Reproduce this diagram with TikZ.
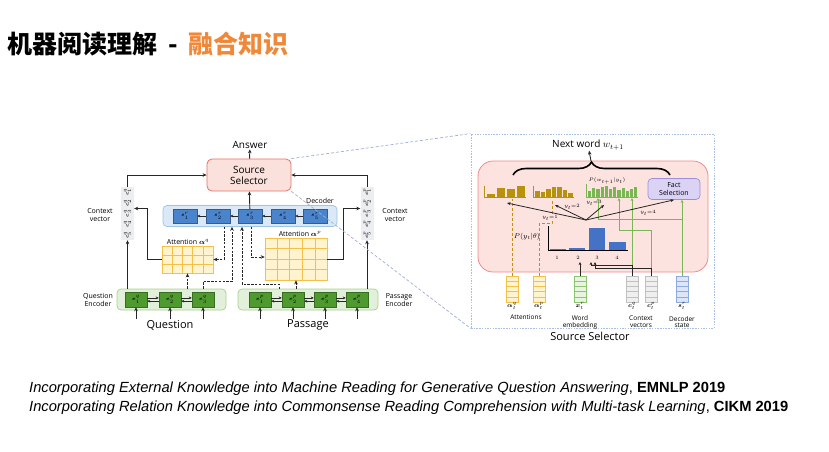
\documentclass[tikz,border=0pt]{standalone}
\usepackage{fontspec}
\usepackage{amsmath}
\usepackage{tikz}
\usetikzlibrary{arrows.meta, positioning, calc, decorations.pathreplacing}
\newfontfamily\cjk{Noto Sans CJK SC}
\newfontfamily\diagf{Open Sans}
\newfontfamily\bibf{Liberation Sans}
\definecolor{titleor}{HTML}{F0883A}
\definecolor{selred}{HTML}{E8706A}
\definecolor{selfill}{HTML}{FBE1DC}
\definecolor{decline}{HTML}{9DC3E6}
\definecolor{decfill}{HTML}{DAE8F7}
\definecolor{decdark}{HTML}{4A84CC}
\definecolor{encline}{HTML}{A9D18E}
\definecolor{encfill}{HTML}{E2EFDA}
\definecolor{encdark}{HTML}{4E9A2F}
\definecolor{attline}{HTML}{F5C04A}
\definecolor{attfill}{HTML}{FFF3D0}
\definecolor{ctxfill}{HTML}{ECEEF2}
\definecolor{linkblue}{HTML}{9FAED6}
\definecolor{frameblue}{HTML}{A9BEE3}
\definecolor{ssline}{HTML}{EE8A8A}
\definecolor{ssfill}{HTML}{FCE3DF}
\definecolor{goldbar}{HTML}{B8920C}
\definecolor{greenbar}{HTML}{7BB655}
\definecolor{pbar}{HTML}{4472C4}
\definecolor{factfill}{HTML}{DAD3F6}
\definecolor{factline}{HTML}{9C8FD8}
\definecolor{vgreen}{HTML}{8CC472}
\definecolor{vgreenf}{HTML}{E8F3E0}
\definecolor{vgray}{HTML}{C0C0C0}
\definecolor{vgrayf}{HTML}{EFEFEF}
\definecolor{vblue}{HTML}{8FAADC}
\definecolor{vbluef}{HTML}{DDE6F6}
\tikzset{
  selbox/.style={rectangle, rounded corners=5pt, draw=selred, line width=0.8pt, fill=selfill, align=center, font=\diagf\fontsize{10}{11}\selectfont, minimum width=84pt, minimum height=32pt, inner sep=0pt},
  decbox/.style={rectangle, rounded corners=4pt, draw=decline, fill=decfill, line width=0.7pt},
  dcell/.style={rectangle, draw=decdark!70!black, fill=decdark, minimum width=24pt, minimum height=14pt, inner sep=0pt, font=\fontsize{5.5}{6}\selectfont},
  encbox/.style={rectangle, rounded corners=4pt, draw=encline, fill=encfill, line width=0.7pt},
  ecell/.style={rectangle, draw=encdark!70!black, fill=encdark, minimum width=22pt, minimum height=15pt, inner sep=0pt, font=\fontsize{5.5}{6}\selectfont},
  attgrid/.style={rectangle, draw=attline, fill=attfill, line width=0.7pt, inner sep=0pt},
  ctxcol/.style={rectangle, fill=ctxfill, minimum width=13pt, minimum height=53pt, inner sep=0pt},
  clbl/.style={rotate=90, font=\fontsize{4.5}{5}\selectfont, inner sep=0pt},
  lbl/.style={font=\diagf\fontsize{7}{7.5}\selectfont, align=center, inner sep=0.5pt},
  tlbl/.style={font=\fontsize{5}{5.5}\selectfont, inner sep=0.5pt},
  vlbl/.style={font=\diagf\fontsize{6.5}{6.8}\selectfont, align=center, inner sep=0pt},
  vec/.style={rectangle, minimum width=12pt, minimum height=26pt, inner sep=0pt, line width=0.6pt},
  frame/.style={rectangle, draw=frameblue, dash pattern=on 1.5pt off 1.2pt, line width=0.8pt},
  ssbox/.style={rectangle, rounded corners=15pt, draw=ssline, fill=ssfill, line width=0.8pt},
  factbox/.style={rectangle, rounded corners=4pt, draw=factline, fill=factfill, line width=0.7pt, align=center, font=\diagf\fontsize{7}{7.5}\selectfont, minimum width=52pt, minimum height=21pt, inner sep=0pt},
  bib/.style={anchor=west, inner sep=0pt, font=\bibf\fontsize{14.7}{17}\selectfont},
  arr/.style={-{Stealth[length=4pt,width=3.6pt]}, line width=0.9pt, black!85},
  sarr/.style={-{Stealth[length=3pt,width=2.8pt]}, line width=0.6pt, black!85},
  darr/.style={arr, dash pattern=on 2.4pt off 1.4pt},
  rarr/.style={-{Stealth[length=3.5pt,width=3pt]}, line width=0.8pt, black!85},
  garr/.style={-{Stealth[length=3pt,width=2.8pt]}, line width=0.9pt, greenbar},
  gdash/.style={line width=1pt, goldbar!80!orange, dash pattern=on 3pt off 2pt},
  link/.style={draw=linkblue, dash pattern=on 3pt off 2pt, line width=0.7pt},
}

\begin{document}
\begin{tikzpicture}[x=1pt, y=-1pt]
\useasboundingbox (0,0) rectangle (829,451);

% title
\node[anchor=west, inner sep=0pt, font=\cjk\bfseries\fontsize{25}{29}\selectfont] (title) at (7,44) {机器阅读理解\hspace{11pt}-\hspace{11pt}\textcolor{titleor}{融合知识}};

% generative QA model
\node[selbox] (sel) at (249,175) {Source\\Selector};
\node[lbl, font=\diagf\fontsize{10}{10}\selectfont] (ans) at (250,145) {Answer};
\draw[arr] (sel) -- (ans);

\node[decbox, minimum width=174pt, minimum height=21pt] (dec) at (250,216) {};
\foreach \i/\x in {1/185,2/218,3/250,4/283,5/315}
  \node[dcell] (s\i) at (\x,216) {$\boldsymbol{s}^r_{\i}$};
\foreach \i/\j in {2/1,3/2,4/3,5/4}
  \draw[sarr] (s\i) -- (s\j);
\node[lbl] (declbl) at (320,201) {Decoder};
\draw[arr] (s3) -- (sel);

\node[encbox, minimum width=109pt, minimum height=21pt] (qenc) at (171.5,299.5) {};
\foreach \i/\x in {1/136,2/170,3/203}
  \node[ecell] (eq\i) at (\x,299.5) {$\boldsymbol{e}^q_{\i}$};
\node[encbox, minimum width=140pt, minimum height=21pt] (penc) at (308,299.5) {};
\foreach \i/\x in {1/260,2/293,3/325,4/357}
  \node[ecell] (ep\i) at (\x,299.5) {$\boldsymbol{e}^p_{\i}$};
\foreach \a/\b in {eq1/eq2,eq2/eq3,ep1/ep2,ep2/ep3,ep3/ep4} {
  \draw[sarr] ([yshift=1.6pt]\a.east) -- ([yshift=1.6pt]\b.west);
  \draw[sarr] ([yshift=-1.6pt]\b.west) -- ([yshift=-1.6pt]\a.east);
}
\node[lbl] (qenclbl) at (98,300) {Question\\Encoder};
\node[lbl] (penclbl) at (399,300) {Passage\\Encoder};
\node[lbl, font=\diagf\fontsize{11}{11}\selectfont] (qin) at (170,325) {Question};
\node[lbl, font=\diagf\fontsize{11}{11}\selectfont] (pin) at (308,325) {Passage};
\foreach \c in {eq1,eq2,eq3}
  \draw[arr] (\c.south |- qin.north) -- (\c.south);
\foreach \c in {ep1,ep2,ep3,ep4}
  \draw[arr] (\c.south |- pin.north) -- (\c.south);

% context vectors
\node[ctxcol] (cvq) at (127.5,213.5) {};
\node[ctxcol] (cvp) at (367,213.5) {};
\foreach \k/\y in {1/192,2/203,3/213.5,4/224,5/235} {
  \node[clbl] (cvq\k) at (127.5,\y) {$\boldsymbol{c}^q_{\k}$};
  \node[clbl] (cvp\k) at (367,\y) {$\boldsymbol{c}^p_{\k}$};
}
\node[lbl] (cvqlbl) at (100,215) {Context\\vector};
\node[lbl] (cvplbl) at (395,215) {Context\\vector};
\draw[arr] (cvq.south |- qenc.north) -- (cvq.south);
\draw[arr] (cvp.south |- penc.north) -- (cvp.south);
\draw[arr] (cvq.north) |- (sel.west);
\draw[arr] (cvp.north) |- (sel.east);

% attentions
\node[attgrid, minimum width=51pt, minimum height=27pt] (attq) at (187.5,259.5) {};
\node[attgrid, minimum width=62pt, minimum height=42pt] (attp) at (296,259) {};
\foreach \k in {1,...,4} {
  \draw[attline, line width=0.6pt] ($(attq.north west)!\k/5!(attq.north east)$) -- ($(attq.south west)!\k/5!(attq.south east)$);
  \draw[attline, line width=0.6pt] ($(attp.north west)!\k/5!(attp.north east)$) -- ($(attp.south west)!\k/5!(attp.south east)$);
}
\foreach \k in {1,2}
  \draw[attline, line width=0.6pt] ($(attq.north west)!\k/3!(attq.south west)$) -- ($(attq.north east)!\k/3!(attq.south east)$);
\foreach \k in {1,2,3}
  \draw[attline, line width=0.6pt] ($(attp.north west)!\k/4!(attp.south west)$) -- ($(attp.north east)!\k/4!(attp.south east)$);
\node[lbl] (attqlbl) at (188,242) {Attention $\boldsymbol{\alpha}^q$};
\node[lbl] (attplbl) at (300,234) {Attention $\boldsymbol{\alpha}^p$};
\draw[arr] (attq.west) -- ++(-14,0) |- ([yshift=5pt]cvq.east);
\draw[arr] (attp.east) -- ++(16,0) |- ([yshift=5pt]cvp.west);

\coordinate (pj) at (279,289);
\draw[darr] ([xshift=-26pt]dec.south) |- (attq.east);
\draw[darr] (eq3.north |- qenc.north) -- ++(0,-7) -| ([xshift=-18pt]dec.south);
\draw[darr] (attq.south |- qenc.north) -- (attq.south);
\draw[darr] (pj) -- ++(0,-5) -| ([xshift=-8pt]dec.south);
\draw[darr] ([xshift=1pt]dec.south) |- ([yshift=2pt]attp.west);
\draw[darr] (attp.south |- penc.north) -- (attp.south);

% source selector in detail
\node[frame, minimum width=243pt, minimum height=194pt] (panel) at (592.5,231) {};
\draw[link] (sel.north east) -- (panel.north west);
\draw[link] (sel.south east) -- (panel.south west);
\node[ssbox, minimum width=230pt, minimum height=111pt] (ssm) at (593,216.5) {};
\node[lbl, font=\diagf\fontsize{10}{10}\selectfont] (next) at (588,145) {Next word $w_{t+1}$};
\draw[decorate, decoration={brace, amplitude=13pt}, line width=1.6pt] (513,175) -- (670,175);
\coordinate (btip) at (591,161);
\draw[arr] (btip) -- (next);

\draw[goldbar, line width=0.8pt] (484,186) -- (484,197) -- (526,197);
\foreach \x/\h in {487/3,497/9,507/8,517/11}
  \fill[goldbar] (\x,197) rectangle ++(8,-\h);
\draw[goldbar, line width=0.8pt] (533,186) -- (533,197) -- (574,197);
\foreach \x/\h in {535/6,540.5/5,546/8,551.5/10,557/10,562.5/7,568/4}
  \fill[goldbar] (\x,197) rectangle ++(4.5,-\h);
\draw[greenbar, line width=0.8pt] (586,184) -- (586,197) -- (638,197);
\foreach \k/\h in {0/6,1/9,2/8,3/10,4/11,5/8,6/10,7/7,8/9,9/6,10/8,11/10}
  \fill[greenbar] ({588+4.2*\k},197) rectangle ++(3.2,-\h);
\node[tlbl] (pw) at (607,181) {$P(w_{t+1}|y_t)$};
\node[factbox] (fact) at (674,189) {Fact\\Selection};

% input vectors
\foreach \n/\x/\c/\f in {aq/512/attline/attfill, ap/539/attline/attfill, xr/580/vgreen/vgreenf, cq/632/vgray/vgrayf, cp/651/vgray/vgrayf, sr/682/vblue/vbluef} {
  \node[vec, draw=\c, fill=\f] (\n) at (\x,289) {};
  \foreach \k in {1,...,4}
    \draw[\c, line width=0.5pt] ($(\n.north west)!\k/5!(\n.south west)$) -- ($(\n.north east)!\k/5!(\n.south east)$);
}
\node[vlbl] (aqlbl) at (512,306) {$\boldsymbol{\alpha}^q_t$};
\node[vlbl] (aplbl) at (539,306) {$\boldsymbol{\alpha}^p_t$};
\node[vlbl] (attslbl) at (526,317) {Attentions};
\node[vlbl] (xrlbl) at (580,306) {$\boldsymbol{x}{}^{r}_{t}$};
\node[vlbl] (welbl) at (580,322) {Word\\embedding};
\node[vlbl] (cqlbl) at (632,306) {$\boldsymbol{c}^q_t$};
\node[vlbl] (cplbl) at (651,306) {$\boldsymbol{c}^p_t$};
\node[vlbl] (cvlbl) at (641,322) {Context\\vectors};
\node[vlbl] (srlbl) at (682,306) {$\boldsymbol{s}{}^{r}_{t}$};
\node[vlbl] (dslbl) at (682,322) {Decoder\\state};
\node[lbl, font=\diagf\fontsize{11}{11}\selectfont] (sslbl) at (590,336) {Source Selector};

% gold and green feeds, under the rays
\coordinate (g1) at (512,199);
\coordinate (g2) at (552,199);
\draw[gdash] (aq.north) -- (g1);
\draw[gdash] (ap.north) -- ++(0,-52) -| (g2);

\coordinate (k1) at (598,198);
\coordinate (k2) at (619,198);
\coordinate (k3) at (632,198);
\draw[garr] (cq.north) -- (k3);
\draw[garr] (cp.north) -- ++(0,-45) -| (k2);
\draw[garr] (sr.north) -- (sr.north |- fact.south);
\draw[garr] (sr.north) ++(0,-56) -| (k1);

\coordinate (o) at (586,220);
\coordinate (ch1) at (507,203);
\coordinate (ch2) at (555,205);
\coordinate (ch3) at (604,205);
\foreach \t in {ch1,ch2,ch3}
  \draw[rarr] (o) -- (\t);
\draw[rarr] (o) -- (fact.south);
\node[tlbl, fill=ssfill] (y1) at (550,218) {$y_t{=}1$};
\node[tlbl] (y2) at (572,207) {$y_t{=}2$};
\node[tlbl] (y3) at (594,203) {$y_t{=}3$};
\node[tlbl] (y4) at (648,213) {$y_t{=}4$};

\draw[black, line width=1pt] (548,226) -- (548,250) -- (628,250);
\fill[pbar] (550,250) rectangle (566,248.5);
\fill[pbar] (569,250) rectangle (585,248);
\fill[pbar] (589,250) rectangle (605,228);
\fill[pbar] (609,250) rectangle (626,242);
\foreach \k/\x in {1/557,2/578,3/597,4/617}
  \node[tlbl] (n\k) at (\x,258) {\k};
\node[lbl] (py) at (527,237) {$P(y_t|\theta)$};

\coordinate (pa) at (591,262);
\coordinate (pb) at (595,262);
\draw[sarr] (xr.north) -- (xr.north |- pa);
\draw[sarr] (cq.north) -- ++(0,-10) -| (pa);
\draw[sarr] (cp.north) -- ++(0,-7) -| (pb);

% references
\node[bib] (ref1) at (29,389) {\itshape Incorporating External Knowledge into Machine Reading for Generative Question Answering\upshape, \bfseries EMNLP 2019};
\node[bib] (ref2) at (29,408) {\itshape Incorporating Relation Knowledge into Commonsense Reading Comprehension with Multi-task Learning\upshape, \bfseries CIKM 2019};
\end{tikzpicture}
\end{document}
